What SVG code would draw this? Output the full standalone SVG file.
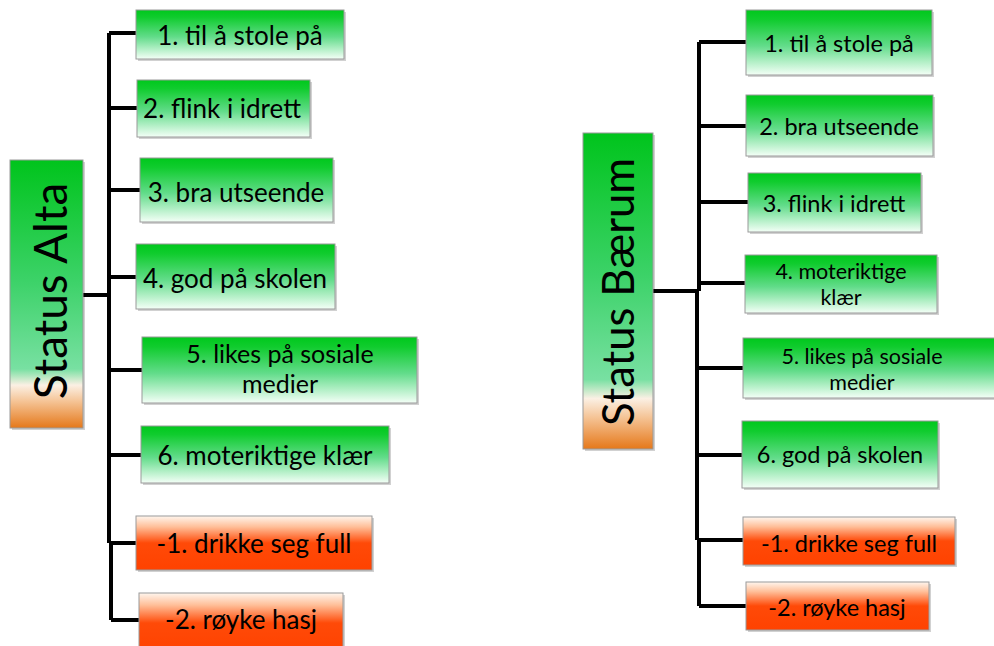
<svg xmlns="http://www.w3.org/2000/svg" width="994" height="646" viewBox="0 0 994 646">
<style>
  .box { stroke: #9a9a9a; stroke-width: 1; }
  .g { fill: url(#gGreen); }
  .o { fill: url(#gOrange); }
  .s { fill: url(#gStatus); }
  .sh { fill: #000; opacity: 0.18; }
  .t { font-family: Lato, "Open Sans", sans-serif; fill: #000; text-anchor: middle; }
  .tl { font-size: 26px; }
  .tl2 { font-size: 25px; }
  .tr { font-size: 23.5px; }
  .tr2 { font-size: 21.5px; }
  .ts { font-size: 46px; }
  .c { stroke: #000; stroke-width: 4; fill: none; stroke-linejoin: miter; }
</style>
<defs>
  <linearGradient id="gGreen" x1="0" y1="0" x2="0" y2="1">
    <stop offset="0" stop-color="#00c81c"/>
    <stop offset="0.15" stop-color="#10cc2e"/>
    <stop offset="0.55" stop-color="#62dc8a"/>
    <stop offset="1" stop-color="#f4fff7"/>
  </linearGradient>
  <linearGradient id="gOrange" x1="0" y1="0" x2="0" y2="1">
    <stop offset="0" stop-color="#fff6ee"/>
    <stop offset="0.2" stop-color="#ffbf99"/>
    <stop offset="0.5" stop-color="#ff4a08"/>
    <stop offset="1" stop-color="#ff4200"/>
  </linearGradient>
  <linearGradient id="gStatus" x1="0" y1="0" x2="0" y2="1">
    <stop offset="0" stop-color="#00c41c"/>
    <stop offset="0.45" stop-color="#3cd268"/>
    <stop offset="0.78" stop-color="#78e0a2"/>
    <stop offset="0.84" stop-color="#fbf0e4"/>
    <stop offset="0.9" stop-color="#f5c496"/>
    <stop offset="1" stop-color="#e5781a"/>
  </linearGradient>
</defs>

<g id="connectors">
  <path class="c" d="M83 295 H109 M109 33 V543 M111 543 V620 M109 33 H136 M109 108 H137 M109 190 H140 M109 277 H136 M109 370 H142 M109 455 H141 M109 543 H136 M111 620 H139"/>
  <path class="c" d="M653 291 H699 M699 42 V291 M697 291 V540 M699 540 V606 M699 42 H746 M699 126 H746 M699 202 H748 M697 283 H745 M697 368 H743 M697 455 H742 M697 540 H743 M699 606 H746"/>
</g>

<g id="status-alta">
  <rect class="sh" x="12" y="162" width="73" height="268"/>
  <rect class="box s" x="10" y="160" width="73" height="268"/>
  <text class="t ts" transform="translate(67 291) rotate(-90)">Status Alta</text>
</g>
<g id="a1">
  <rect class="sh" x="138" y="12" width="208" height="49"/>
  <rect class="box g" x="136" y="10" width="208" height="49"/>
  <text class="t tl" x="240" y="45">1. til å stole på</text>
</g>
<g id="a2">
  <rect class="sh" x="139" y="82" width="173" height="57"/>
  <rect class="box g" x="137" y="80" width="173" height="57"/>
  <text class="t tl" x="222" y="118">2. flink i idrett</text>
</g>
<g id="a3">
  <rect class="sh" x="142" y="160" width="193" height="64"/>
  <rect class="box g" x="140" y="158" width="193" height="64"/>
  <text class="t tl" x="236" y="202">3. bra utseende</text>
</g>
<g id="a4">
  <rect class="sh" x="138" y="246" width="199" height="65"/>
  <rect class="box g" x="136" y="244" width="199" height="65"/>
  <text class="t tl" x="235" y="288">4. god på skolen</text>
</g>
<g id="a5">
  <rect class="sh" x="144" y="339" width="275" height="66"/>
  <rect class="box g" x="142" y="337" width="275" height="66"/>
  <text class="t tl2" x="280" y="363">5. likes på sosiale</text>
  <text class="t tl2" x="280" y="393">medier</text>
</g>
<g id="a6">
  <rect class="sh" x="143" y="428" width="248" height="57"/>
  <rect class="box g" x="141" y="426" width="248" height="57"/>
  <text class="t tl" x="265" y="465">6. moteriktige klær</text>
</g>
<g id="a-1">
  <rect class="sh" x="138" y="518" width="236" height="54"/>
  <rect class="box o" x="136" y="516" width="236" height="54"/>
  <text class="t tl" x="254" y="553">-1. drikke seg full</text>
</g>
<g id="a-2">
  <rect class="sh" x="141" y="595" width="204" height="60"/>
  <rect class="box o" x="139" y="593" width="204" height="60"/>
  <text class="t tl" x="241" y="629">-2. røyke hasj</text>
</g>

<g id="status-baerum">
  <rect class="sh" x="585" y="135" width="70" height="316"/>
  <rect class="box s" x="583" y="133" width="70" height="316"/>
  <text class="t ts" style="font-size:43.5px" transform="translate(634 292) rotate(-90)">Status Bærum</text>
</g>
<g id="b1">
  <rect class="sh" x="748" y="12" width="186" height="65"/>
  <rect class="box g" x="746" y="10" width="186" height="65"/>
  <text class="t tr" x="839" y="52">1. til å stole på</text>
</g>
<g id="b2">
  <rect class="sh" x="748" y="97" width="187" height="61"/>
  <rect class="box g" x="746" y="95" width="187" height="61"/>
  <text class="t tr" x="839" y="135">2. bra utseende</text>
</g>
<g id="b3">
  <rect class="sh" x="750" y="175" width="173" height="59"/>
  <rect class="box g" x="748" y="173" width="173" height="59"/>
  <text class="t tr" x="834" y="212">3. flink i idrett</text>
</g>
<g id="b4">
  <rect class="sh" x="747" y="257" width="192" height="58"/>
  <rect class="box g" x="745" y="255" width="192" height="58"/>
  <text class="t tr2" x="841" y="279">4. moteriktige</text>
  <text class="t tr2" x="841" y="305">klær</text>
</g>
<g id="b5">
  <rect class="sh" x="745" y="340" width="252" height="60"/>
  <rect class="box g" x="743" y="338" width="252" height="60"/>
  <text class="t tr2" x="862" y="364">5. likes på sosiale</text>
  <text class="t tr2" x="862" y="390">medier</text>
</g>
<g id="b6">
  <rect class="sh" x="744" y="423" width="196" height="67"/>
  <rect class="box g" x="742" y="421" width="196" height="67"/>
  <text class="t tr" x="840" y="463">6. god på skolen</text>
</g>
<g id="b-1">
  <rect class="sh" x="745" y="519" width="212" height="48"/>
  <rect class="box o" x="743" y="517" width="212" height="48"/>
  <text class="t tr" x="849" y="552">-1. drikke seg full</text>
</g>
<g id="b-2">
  <rect class="sh" x="748" y="584" width="183" height="48"/>
  <rect class="box o" x="746" y="582" width="183" height="48"/>
  <text class="t tr" x="837" y="616">-2. røyke hasj</text>
</g>
</svg>
